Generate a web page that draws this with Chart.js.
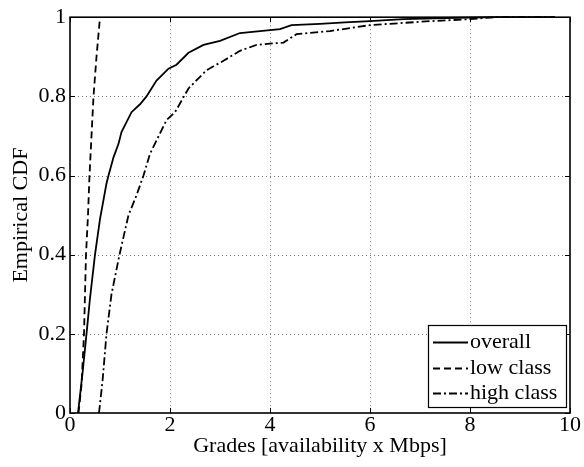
<!DOCTYPE html>
<html>
<head>
<meta charset="utf-8">
<script src="https://cdn.jsdelivr.net/npm/chart.js@4.4.1/dist/chart.umd.min.js"></script>
<style>
  html, body { margin: 0; padding: 0; background: #fff; }
</style>
</head>
<body>
<canvas id="cdfChart" width="584" height="467"></canvas>
<script>
// values
const overallX = [0.16, 0.25, 0.33, 0.4, 0.5, 0.6, 0.73, 0.77, 0.87, 0.97, 1.03, 1.23, 1.4, 1.53, 1.73, 1.97, 2.13, 2.37, 2.67, 3.0, 3.4, 3.8, 4.2, 4.43, 5.0, 5.5, 6.0, 6.67, 7.5, 8.5, 9.7];
const overallY = [0, 0.1, 0.2, 0.29, 0.4, 0.49, 0.58, 0.6, 0.646, 0.68, 0.71, 0.76, 0.78, 0.8, 0.84, 0.87, 0.88, 0.91, 0.93, 0.94, 0.96, 0.965, 0.97, 0.98, 0.983, 0.987, 0.99, 0.995, 0.998, 1, 1];

const lowX = [0.17, 0.23, 0.28, 0.32, 0.36, 0.39, 0.43, 0.47, 0.53, 0.6];
const lowY = [0, 0.07, 0.2, 0.4, 0.5, 0.6, 0.7, 0.8, 0.9, 1];

const highX = [0.58, 0.65, 0.73, 0.83, 0.99, 1.17, 1.33, 1.47, 1.6, 1.93, 2.1, 2.37, 2.73, 3.07, 3.4, 3.73, 4.27, 4.53, 5.2, 6.0, 7.2, 8.0, 8.5, 9.7];
const highY = [0, 0.08, 0.2, 0.3, 0.4, 0.5, 0.55, 0.6, 0.655, 0.74, 0.76, 0.82, 0.866, 0.89, 0.915, 0.93, 0.936, 0.957, 0.965, 0.98, 0.99, 0.995, 1, 1];

const xTicks = [0, 2, 4, 6, 8, 10];
const yTicks = [0, 0.2, 0.4, 0.6, 0.8, 1];

const seriesNames = ['overall', 'low class', 'high class'];
const seriesDash = [[], [7, 4], [8, 3, 2, 3]];

const FONT = '"Liberation Serif", "Times New Roman", serif';
const FONT_SIZE = 22;

const toPoints = (xs, ys) => xs.map((x, i) => ({ x, y: ys[i] }));

// MATLAB-like frame: dotted grid, inward ticks, box, legend inside, axis labels
const matlabFrame = {
  id: 'matlabFrame',
  beforeDatasetsDraw(chart) {
    const { ctx, chartArea: a, scales: { x, y } } = chart;
    ctx.save();
    ctx.strokeStyle = '#777';
    ctx.lineWidth = 1;
    ctx.setLineDash([1, 3]);
    xTicks.slice(1, -1).forEach(v => {
      const px = Math.round(x.getPixelForValue(v)) + 0.5;
      ctx.beginPath(); ctx.moveTo(px, a.top); ctx.lineTo(px, a.bottom); ctx.stroke();
    });
    yTicks.slice(1, -1).forEach(v => {
      const py = Math.round(y.getPixelForValue(v)) + 0.5;
      ctx.beginPath(); ctx.moveTo(a.left, py); ctx.lineTo(a.right, py); ctx.stroke();
    });
    ctx.restore();
  },
  afterDatasetsDraw(chart) {
    const { ctx, chartArea: a, scales: { x, y } } = chart;
    ctx.save();
    ctx.strokeStyle = '#000';
    ctx.setLineDash([]);

    // inward ticks on all four sides
    ctx.lineWidth = 1;
    const tl = 5;
    xTicks.forEach(v => {
      const px = Math.round(x.getPixelForValue(v)) + 0.5;
      ctx.beginPath();
      ctx.moveTo(px, a.bottom); ctx.lineTo(px, a.bottom - tl);
      ctx.moveTo(px, a.top); ctx.lineTo(px, a.top + tl);
      ctx.stroke();
    });
    yTicks.forEach(v => {
      const py = Math.round(y.getPixelForValue(v)) + 0.5;
      ctx.beginPath();
      ctx.moveTo(a.left, py); ctx.lineTo(a.left + tl, py);
      ctx.moveTo(a.right, py); ctx.lineTo(a.right - tl, py);
      ctx.stroke();
    });

    // box
    ctx.lineWidth = 1.6;
    ctx.strokeRect(a.left, a.top, a.right - a.left, a.bottom - a.top);

    // legend (bottom right, inside)
    const lx = 428, ly = 325, lw = 138, lh = 82;
    ctx.fillStyle = '#fff';
    ctx.fillRect(lx, ly, lw, lh);
    ctx.lineWidth = 1.2;
    ctx.strokeRect(lx + 0.5, ly + 0.5, lw, lh);
    ctx.font = FONT_SIZE + 'px ' + FONT;
    ctx.textBaseline = 'middle';
    ctx.textAlign = 'left';
    const rows = [342, 368, 393];
    seriesNames.forEach((name, i) => {
      ctx.setLineDash(seriesDash[i]);
      ctx.lineWidth = 1.8;
      ctx.beginPath(); ctx.moveTo(433, rows[i] + 0.5); ctx.lineTo(468, rows[i] + 0.5); ctx.stroke();
      ctx.setLineDash([]);
      ctx.fillStyle = '#000';
      ctx.fillText(name, 470, rows[i]);
    });

    // axis titles
    ctx.textAlign = 'center';
    ctx.textBaseline = 'middle';
    ctx.fillText('Grades [availability x Mbps]', (a.left + a.right) / 2, 446);
    ctx.translate(21, (a.top + a.bottom) / 2);
    ctx.rotate(-Math.PI / 2);
    ctx.fillText('Empirical CDF', 0, 0);
    ctx.restore();
  }
};

const datasets = [
  toPoints(overallX, overallY),
  toPoints(lowX, lowY),
  toPoints(highX, highY)
].map((pts, i) => ({
  label: seriesNames[i],
  data: pts,
  borderColor: '#000',
  borderWidth: 1.8,
  borderDash: seriesDash[i],
  pointRadius: 0,
  tension: 0,
  fill: false
}));

new Chart(document.getElementById('cdfChart'), {
  type: 'line',
  data: { datasets },
  options: {
    responsive: false,
    animation: false,
    clip: false,
    layout: { padding: { top: 17, right: 14, left: 0, bottom: 0 } },
    plugins: { legend: { display: false }, tooltip: { enabled: false } },
    scales: {
      x: {
        type: 'linear',
        min: 0,
        max: 10,
        afterFit: s => { s.height = 54; },
        afterBuildTicks: s => { s.ticks = xTicks.map(v => ({ value: v })); },
        grid: { display: false, drawTicks: false, tickLength: 0 },
        border: { display: false },
        ticks: { color: '#000', padding: 1, maxRotation: 0, font: { family: FONT, size: FONT_SIZE, lineHeight: 1 } }
      },
      y: {
        type: 'linear',
        min: 0,
        max: 1,
        afterFit: s => { s.width = 70; },
        afterBuildTicks: s => { s.ticks = yTicks.map(v => ({ value: v })); },
        grid: { display: false, drawTicks: false, tickLength: 0 },
        border: { display: false },
        ticks: { color: '#000', padding: 4, font: { family: FONT, size: FONT_SIZE }, callback: v => String(v) }
      }
    }
  },
  plugins: [matlabFrame]
});
</script>
</body>
</html>
